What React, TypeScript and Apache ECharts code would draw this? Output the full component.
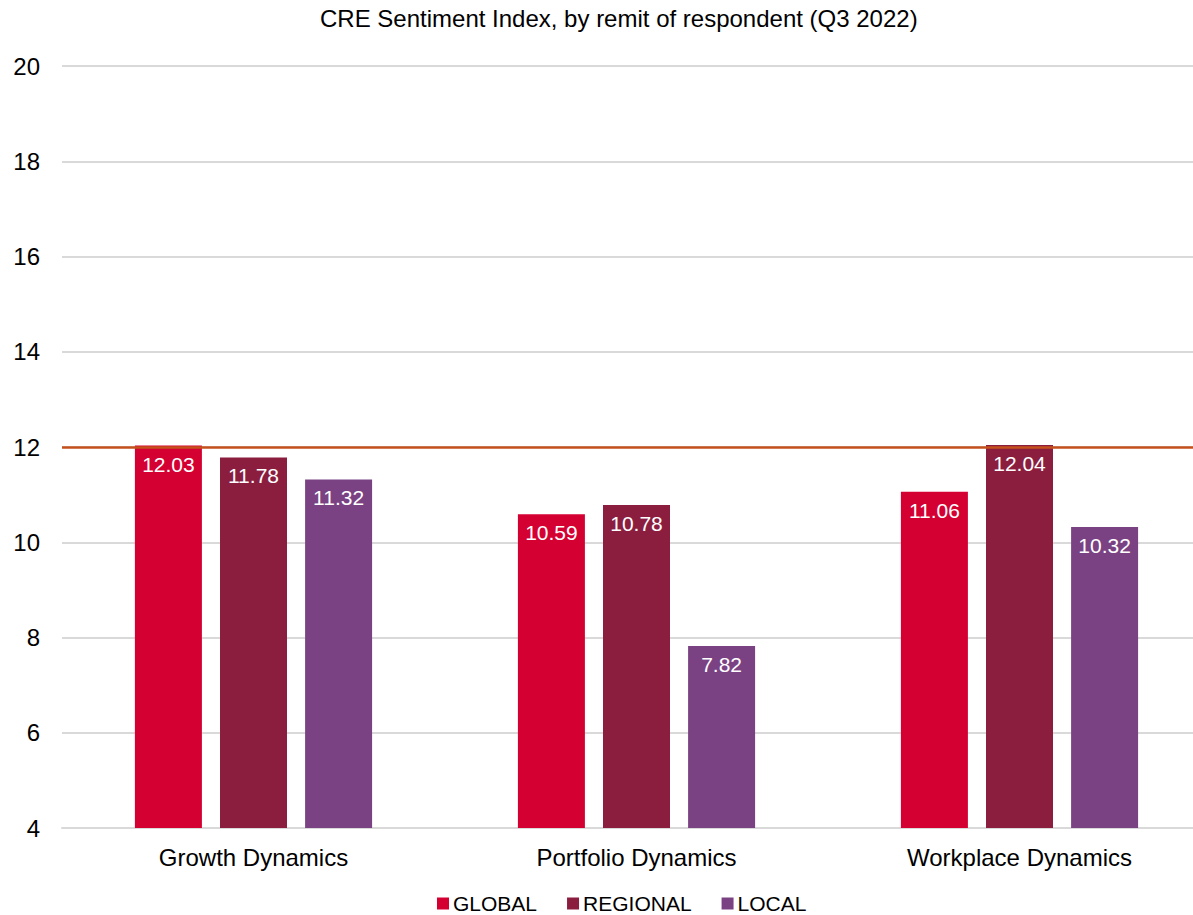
import React, { useEffect, useRef } from "react";
import * as echarts from "echarts";

const categories = ["Growth Dynamics", "Portfolio Dynamics", "Workplace Dynamics"];
const seriesNames = ["GLOBAL", "REGIONAL", "LOCAL"];
const globalValues = [12.03, 10.59, 11.06];
const regionalValues = [11.78, 10.78, 12.04];
const localValues = [11.32, 7.82, 10.32];
const yTicks = [4, 6, 8, 10, 12, 14, 16, 18, 20];
const referenceLevel = 12;
const colors = ["#D50032", "#8B1E3F", "#7B4283"];
const titleText = "CRE Sentiment Index, by remit of respondent (Q3 2022)";

export default function App() {
  const ref = useRef<HTMLDivElement>(null);
  useEffect(() => {
    document.body.style.margin = "0";
    if (!ref.current) return;
    const chart = echarts.init(ref.current, undefined, { renderer: "svg" });
    const font = "'Liberation Sans', Arial, sans-serif";
    const values = [globalValues, regionalValues, localValues];
    chart.setOption({
      animation: false,
      textStyle: { fontFamily: font },
      title: {
        text: titleText,
        left: 320,
        top: 6,
        padding: 0,
        textStyle: { fontSize: 24, fontWeight: "normal", color: "#000", fontFamily: font },
      },
      legend: {
        bottom: 1,
        left: 437,
        padding: 0,
        data: seriesNames,
        icon: "rect",
        itemWidth: 12,
        itemHeight: 12,
        itemGap: 30,
        textStyle: { fontSize: 21, color: "#000", fontFamily: font, padding: [0, 0, 0, -1] },
      },
      grid: { left: 62, right: 0, top: 66, bottom: 87, containLabel: false },
      xAxis: {
        type: "category",
        data: categories,
        axisTick: { show: false },
        axisLine: { lineStyle: { color: "#D9D9D9", width: 2 } },
        axisLabel: { fontSize: 24, color: "#000", margin: 17, fontFamily: font },
      },
      yAxis: {
        type: "value",
        min: yTicks[0],
        max: yTicks[yTicks.length - 1],
        interval: 2,
        axisLine: { show: false },
        axisTick: { show: false },
        axisLabel: { fontSize: 24, color: "#000", margin: 22, fontFamily: font },
        splitLine: { lineStyle: { color: "#D9D9D9", width: 2 } },
      },
      series: seriesNames.map((name, i) => ({
        name,
        type: "bar",
        data: values[i],
        barWidth: 67,
        barGap: "27%",
        itemStyle: { color: colors[i] },
        label: {
          show: true,
          position: "insideTop",
          distance: 8,
          color: "#fff",
          fontSize: 21,
          fontFamily: font,
          formatter: (p: any) => p.value.toFixed(2),
        },
        ...(i === 0
          ? {
              markLine: {
                silent: true,
                symbol: "none",
                label: { show: false },
                lineStyle: { color: "#C4501C", width: 2.5, type: "solid" },
                data: [{ yAxis: referenceLevel }],
              },
            }
          : {}),
      })),
    });
    return () => chart.dispose();
  }, []);
  return (
    <div style={{ width: 1193, height: 915, overflow: "hidden", position: "relative" }}>
      <div ref={ref} style={{ width: 1211, height: 915 }} />
    </div>
  );
}
